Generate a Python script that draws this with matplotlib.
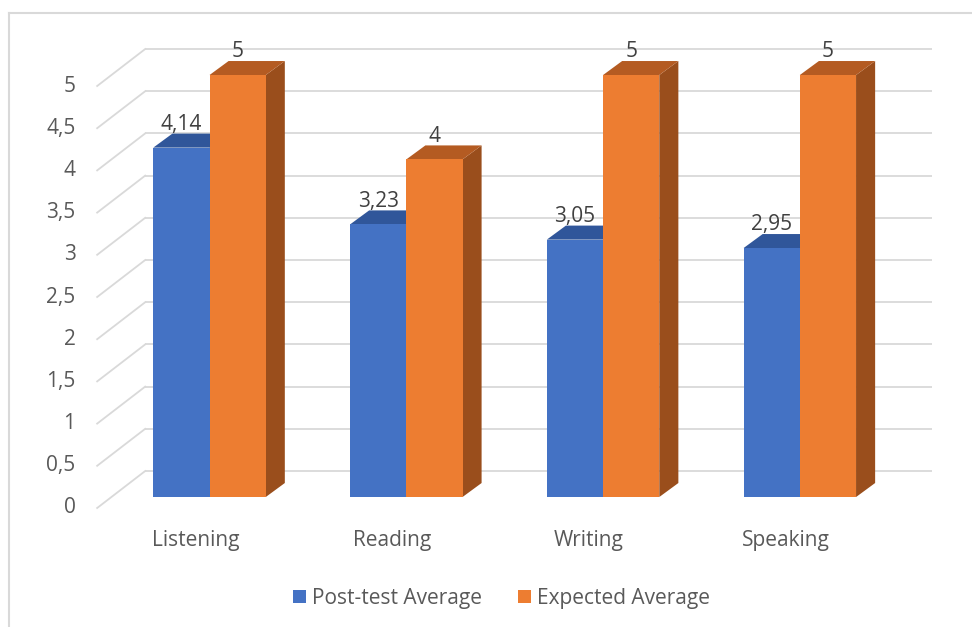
import matplotlib
matplotlib.use("Agg")
import matplotlib.pyplot as plt
from matplotlib.patches import Polygon, Patch
from matplotlib.lines import Line2D

categories = ["Listening", "Reading", "Writing", "Speaking"]
post_test = [4.14, 3.23, 3.05, 2.95]
expected = [5, 4, 5, 5]
y_ticks = [0, 0.5, 1, 1.5, 2, 2.5, 3, 3.5, 4, 4.5, 5]
series_names = ["Post-test Average", "Expected Average"]

# front / top / side shades for each series
blue = ("#4472C4", "#30569A", "#284A86")
orange = ("#ED7D31", "#B45B22", "#9A4E1C")

text_color = "#595959"
grid_color = "#D9D9D9"
font = "Open Sans"
fsize = 15

# oblique offsets (data units) for the fake 3-D look
bar_w = 1 / 3.5              # gap width 150%
bar_dx, bar_dy = 0.097, 0.166
wall_dx, wall_dy = 0.173, 0.308
front_dx, front_dy = -0.071, -0.130


def fmt(v):
    return ("%g" % v).replace(".", ",")


def draw_bar(ax, x0, h, shades):
    front, top, side = shades
    x1 = x0 + bar_w
    ax.add_patch(Polygon([(x1, 0), (x1 + bar_dx, bar_dy), (x1 + bar_dx, h + bar_dy), (x1, h)],
                         closed=True, facecolor=side, edgecolor="none", zorder=3))
    ax.add_patch(Polygon([(x0, h), (x0 + bar_dx, h + bar_dy), (x1 + bar_dx, h + bar_dy), (x1, h)],
                         closed=True, facecolor=top, edgecolor="none", zorder=3))
    ax.add_patch(Polygon([(x0, 0), (x0, h), (x1, h), (x1, 0)],
                         closed=True, facecolor=front, edgecolor="none", zorder=4))
    ax.text(x0 + bar_w / 2, h + bar_dy + 0.11, fmt(h), ha="center", va="center",
            fontsize=fsize, color="#404040", family=font, zorder=5)


fig = plt.figure(figsize=(9.72, 6.27), dpi=100)
ax = fig.add_axes([0, 0, 1, 1])
ax.set_xlim(-1.0648, 3.875)
ax.set_ylim(-1.540, 5.889)
ax.axis("off")

n = len(categories)
for v in y_ticks:
    # back wall
    ax.plot([-0.5 + wall_dx, n - 0.5 + wall_dx], [v + wall_dy, v + wall_dy],
            color=grid_color, lw=1.3, zorder=1, solid_capstyle="butt")
    # side wall
    ax.plot([-0.5 + front_dx, -0.5 + wall_dx], [v + front_dy, v + wall_dy],
            color=grid_color, lw=1.3, zorder=1)
    ax.text(-0.5 + front_dx - 0.11, v + front_dy, fmt(v), ha="right", va="center",
            fontsize=fsize, color=text_color, family=font)

for i, cat in enumerate(categories):
    draw_bar(ax, i - bar_w, post_test[i], blue)
    draw_bar(ax, i, expected[i], orange)
    ax.text(i + front_dx, -0.51, cat, ha="center", va="center",
            fontsize=fsize, color=text_color, family=font)

handles = [Patch(facecolor=blue[0]), Patch(facecolor=orange[0])]
fig.legend(handles, series_names, loc="center", bbox_to_anchor=(0.516, 0.046), ncol=2,
           frameon=False, handlelength=0.62, handleheight=0.62, handletextpad=0.3,
           columnspacing=1.7, prop={"family": font, "size": fsize}, labelcolor=text_color)

# chart area border
bx, by = 9 / 972, 1 - 13 / 627
fig.add_artist(Line2D([bx, bx], [0, by], color=grid_color, lw=1.5, transform=fig.transFigure))
fig.add_artist(Line2D([bx, 1], [by, by], color=grid_color, lw=1.5, transform=fig.transFigure))

fig.savefig("out.png", dpi=100)
